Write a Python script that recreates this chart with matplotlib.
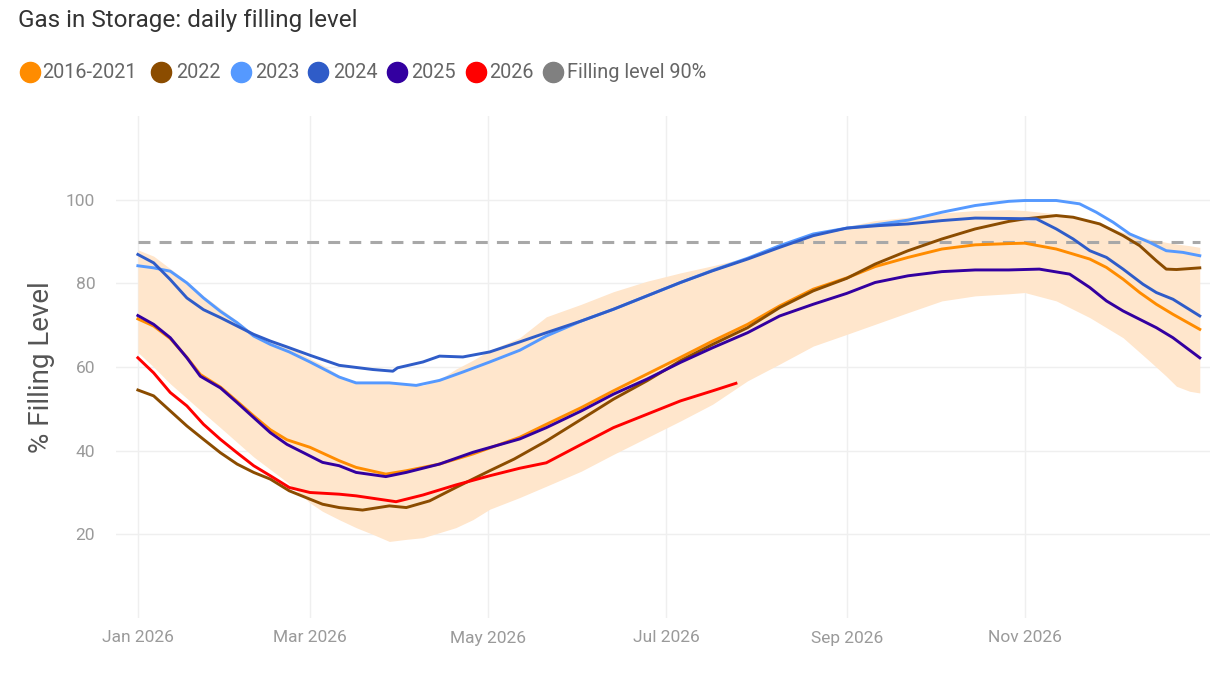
import datetime as dt
import matplotlib
matplotlib.use("Agg")
import matplotlib.pyplot as plt
import matplotlib.dates as mdates
import matplotlib.ticker as mticker
from matplotlib.lines import Line2D

plt.rcParams['font.family'] = ['Roboto', 'DejaVu Sans']

# ---- data (day offsets from 1 Jan 2026, % filling level) ----
d_avg = [0, 5.4, 11.1, 16.8, 21.4, 28.3, 34, 39.7, 45.4, 51.1, 59, 69, 74.8, 85, 92, 103.4, 114.8, 130.9, 140, 152, 163, 174.5, 186, 197, 209, 220, 231.5, 243, 252.7, 264, 275.6, 287, 298.5, 304, 314.8, 320.6, 326.3, 332, 337.7, 343.4, 349.1, 354.8, 364]
v_avg = [71.5, 69.8, 66.8, 62.3, 58.2, 55.2, 51.8, 48.3, 45, 42.6, 40.8, 37.6, 36, 34.4, 35.2, 36.8, 39.2, 43.2, 46.3, 50.3, 54.3, 58.3, 62.3, 66.2, 70.2, 74.6, 78.6, 81.3, 84, 86.2, 88.2, 89.2, 89.5, 89.6, 88.2, 87, 85.8, 83.8, 81, 77.8, 75, 72.6, 69]

d_2022 = [0, 5.4, 11.1, 16.8, 22.5, 28.3, 34, 39.7, 45.4, 51.9, 59, 63.3, 69, 77, 86.2, 92, 100, 109, 120.6, 129, 140, 152, 163, 174.5, 186, 197, 209, 220, 231.5, 243, 252.7, 264, 275.6, 287, 298.5, 304, 314.8, 320.6, 329.7, 337.7, 343.4, 349.1, 352.5, 356, 364]
v_2022 = [54.5, 53.1, 49.5, 45.9, 42.7, 39.5, 36.8, 34.8, 33.2, 30.4, 28.4, 27.2, 26.4, 25.8, 26.8, 26.4, 28, 31.2, 35.2, 38, 42.3, 47.5, 52.3, 56.7, 61.5, 65.4, 69.4, 74.2, 78.2, 81.2, 84.6, 87.8, 90.6, 93, 94.8, 95.4, 96.2, 95.8, 94.2, 91.4, 89, 85.4, 83.4, 83.3, 83.7]

d_2023 = [0, 5.4, 11.1, 16.8, 22.5, 28.3, 34, 39.7, 45.4, 51.9, 59, 69, 74.8, 86.2, 95.4, 103.4, 111.4, 120.6, 130.9, 140, 152, 163, 174.5, 186, 197, 209, 220, 231.5, 243, 252.7, 264, 275.6, 287, 298.5, 304, 314.8, 322.8, 328.5, 334.3, 340, 346.8, 352.5, 358.2, 364]
v_2023 = [84.2, 83.7, 82.9, 80.1, 76.5, 73.3, 70.6, 67.4, 65.4, 63.6, 61.2, 57.6, 56.2, 56.2, 55.6, 56.8, 58.8, 61.2, 64, 67.4, 71, 73.8, 77, 80.2, 83.1, 86, 89, 91.8, 93.2, 94, 95.1, 97, 98.6, 99.6, 99.8, 99.8, 99, 97, 94.6, 91.8, 89.8, 87.8, 87.4, 86.6]

d_2024 = [0, 5.4, 11.1, 16.8, 22.5, 28.3, 34, 39.7, 45.4, 51.1, 59, 69, 80.5, 87.4, 89, 97.7, 103.4, 111.4, 120.6, 130.9, 140, 152, 163, 174.5, 186, 197, 209, 220, 231.5, 243, 254, 264, 275.6, 287, 298.5, 308, 314.8, 320.6, 326.3, 332, 337.7, 344.5, 349.1, 354.8, 364]
v_2024 = [86.9, 84.9, 80.9, 76.5, 73.7, 71.8, 69.8, 67.8, 66.2, 64.8, 62.8, 60.4, 59.4, 59, 59.8, 61.2, 62.6, 62.4, 63.6, 66, 68.2, 71, 73.8, 77, 80.2, 83, 85.8, 88.6, 91.4, 93.2, 93.8, 94.2, 95, 95.6, 95.5, 95.4, 93, 90.6, 87.8, 86.2, 83.4, 79.8, 77.8, 76.2, 72.2]

d_2025 = [0, 5.4, 11.1, 16.8, 21.4, 28.3, 34, 39.7, 45.4, 51.1, 56.8, 63.3, 69, 74.8, 85, 92, 103.4, 114.8, 130.9, 140, 152, 163, 174.5, 186, 197, 209, 220, 231.5, 243, 252.7, 264, 275.6, 287, 298.5, 309, 319.4, 326.3, 332, 337.7, 343.4, 349.1, 354.8, 364]
v_2025 = [72.3, 70.2, 67, 62.2, 57.8, 55, 51.5, 47.9, 44.3, 41.5, 39.5, 37.2, 36.4, 34.8, 33.8, 34.8, 36.8, 39.6, 42.8, 45.5, 49.5, 53.5, 57.1, 61.1, 64.6, 68.2, 72.2, 75, 77.6, 80.2, 81.8, 82.8, 83.2, 83.2, 83.4, 82.2, 79, 75.8, 73.4, 71.4, 69.4, 67, 62.2]

d_2026 = [0, 5.4, 11.1, 16.8, 22.5, 28.3, 34, 39.7, 45.4, 51.9, 59, 69, 74.8, 88.5, 97.7, 109, 120.6, 130.9, 140, 152, 163, 174.5, 186, 197, 205]
v_2026 = [62.2, 58.6, 53.9, 50.7, 46.3, 42.7, 39.5, 36.4, 34, 31.2, 30, 29.6, 29.2, 27.8, 29.4, 31.8, 34, 35.8, 37.1, 41.5, 45.5, 48.7, 51.9, 54.3, 56.1]

d_band = [0, 5.4, 11.1, 16.8, 22.5, 28.3, 34, 39.7, 45.4, 51.1, 59, 63.3, 69, 74.8, 80.5, 86.2, 92, 97.7, 103.4, 109, 114.8, 120.6, 130.9, 140, 152, 163, 174.5, 186, 197, 209, 220, 231.5, 243, 252.7, 264, 275.6, 287, 298.5, 304, 314.8, 326.3, 337.7, 346.8, 352.5, 356, 360.5, 364]
v_band_hi = [88, 86.5, 83.5, 80.5, 77, 74, 71, 68, 66.5, 65, 62, 60.5, 58, 56.4, 56.3, 56.2, 56, 55.6, 57, 59.5, 61.6, 64, 67, 72, 75, 78, 80.5, 82.5, 84.2, 86.2, 88.8, 91.6, 93.6, 95, 95.8, 96.8, 97.4, 97.6, 97.4, 96.6, 95, 92.2, 90.6, 89.8, 89.4, 89, 88.6]
v_band_lo = [63.5, 60, 56, 52.5, 49, 45.5, 42, 38.5, 35.5, 32.5, 27.5, 25.5, 23.5, 21.6, 20, 18.3, 18.8, 19.2, 20.4, 21.6, 23.5, 26, 28.8, 31.5, 35.1, 39.1, 43.1, 47.1, 51.1, 56.7, 60.7, 65, 67.8, 70.2, 73, 75.8, 77, 77.5, 77.8, 75.8, 71.8, 67, 61.4, 57.8, 55.4, 54.2, 53.8]

target_level = 90
series_names = ['2016-2021', '2022', '2023', '2024', '2025', '2026', 'Filling level 90%']
series_colors = ['#FF8C00', '#8B4C00', '#5599FF', '#2F5CC8', '#3300A0', '#FF0000', '#808080']
tick_months = [1, 3, 5, 7, 9, 11]

W, H = 1222, 678
base = mdates.date2num(dt.datetime(2026, 1, 1))
def to_x(days):
    return [base + d for d in days]

fig = plt.figure(figsize=(W / 100, H / 100), dpi=100)
ax = fig.add_axes([116 / W, 1 - 618 / H, (1210 - 116) / W, (618 - 116) / H])

ax.fill_between(to_x(d_band), v_band_lo, v_band_hi, color='#FFE6CC', lw=0, zorder=1)
ax.plot([base, base + 364], [target_level, target_level], color='#A8A8A8', lw=2.2,
        linestyle=(0, (3.9, 3.0)), zorder=2)

lw = 2.1
ax.plot(to_x(d_avg), v_avg, color=series_colors[0], lw=lw, zorder=3)
ax.plot(to_x(d_2022), v_2022, color=series_colors[1], lw=lw, zorder=3)
ax.plot(to_x(d_2023), v_2023, color=series_colors[2], lw=lw, zorder=3)
ax.plot(to_x(d_2024), v_2024, color=series_colors[3], lw=lw, zorder=3)
ax.plot(to_x(d_2025), v_2025, color=series_colors[4], lw=lw, zorder=4)
ax.plot(to_x(d_2026), v_2026, color=series_colors[5], lw=lw, zorder=5)

ax.set_xlim(base - 7.5, base + 367.5)
ax.set_ylim(0, 120)
ax.set_yticks([20, 40, 60, 80, 100])
ax.xaxis.set_major_locator(mticker.FixedLocator(
    [mdates.date2num(dt.datetime(2026, m, 1)) for m in tick_months]))
ax.xaxis.set_major_formatter(mdates.DateFormatter('%b %Y'))
ax.grid(True, color='#EFEFEF', lw=1.0, zorder=0)
ax.set_axisbelow(True)
for s in ax.spines.values():
    s.set_visible(False)
ax.tick_params(axis='both', length=0)
ax.tick_params(axis='y', labelsize=12.5, labelcolor='#9A9A9A', pad=15)
ax.tick_params(axis='x', labelsize=12.5, labelcolor='#9A9A9A', pad=9)
ax.set_ylabel('% Filling Level', fontsize=20, color='#555555', labelpad=8)

fig.text(18 / W, 1 - 20 / H, 'Gas in Storage: daily filling level', fontsize=17.5,
         color='#333333', ha='left', va='center')

# legend row (manual layout)
circle_x = [30, 161, 240.5, 318, 397, 476, 553]
text_x = [42, 176, 255, 333, 411, 489, 567]
leg_y = 1 - 72 / H
for cx, tx, c, name in zip(circle_x, text_x, series_colors, series_names):
    fig.add_artist(Line2D([cx / W], [leg_y], transform=fig.transFigure, marker='o',
                          linestyle='', markersize=14.5, markerfacecolor=c,
                          markeredgecolor=c))
    fig.text(tx / W, leg_y, name, fontsize=14.3, color='#666666', ha='left', va='center')

fig.savefig('out.png', dpi=100)
